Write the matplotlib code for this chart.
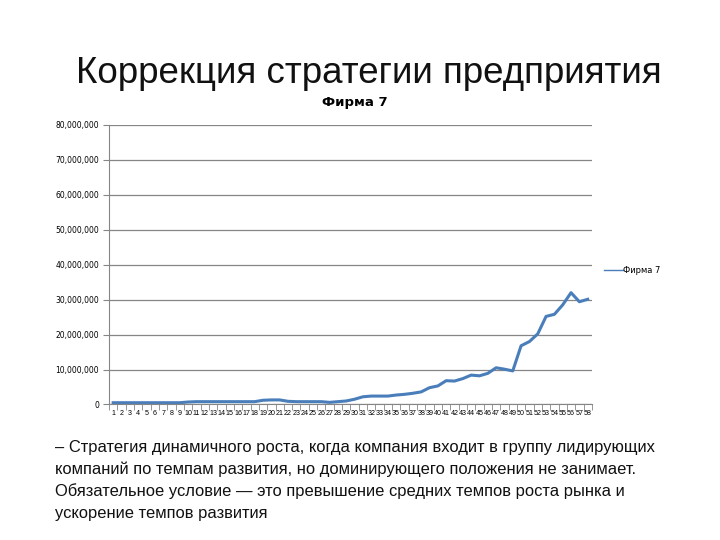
import matplotlib.pyplot as plt
from matplotlib.ticker import FuncFormatter
import numpy as np

# данные (оценка по картинке)
periods = list(range(1, 59))
firm7 = [0.5, 0.5, 0.5, 0.5, 0.5, 0.5, 0.5, 0.5, 0.5, 0.7,
         0.8, 0.8, 0.8, 0.8, 0.8, 0.8, 0.8, 0.8, 1.2, 1.3,
         1.3, 0.9, 0.8, 0.8, 0.8, 0.8, 0.6, 0.8, 1.0, 1.5,
         2.2, 2.4, 2.4, 2.4, 2.7, 2.9, 3.2, 3.6, 4.8, 5.3,
         6.8, 6.7, 7.4, 8.4, 8.2, 8.9, 10.5, 10.1, 9.6, 16.8,
         18.0, 20.2, 25.2, 25.8, 28.5, 32.0, 29.4, 30.1]
firm7 = [v * 1e6 for v in firm7]
series_name = "Фирма 7"
title_text = "Коррекция стратегии предприятия"
body_lines = [
    "– Стратегия динамичного роста, когда компания входит в группу лидирующих",
    "компаний по темпам развития, но доминирующего положения не занимает.",
    "Обязательное условие — это превышение средних темпов роста рынка и",
    "ускорение темпов развития",
]

plt.rcParams['font.family'] = ['Liberation Sans', 'DejaVu Sans']

fig = plt.figure(figsize=(7.2, 5.4), dpi=100)
fig.patch.set_facecolor('white')

fig.text(0.512, 0.863, title_text, ha='center', va='center', fontsize=26.5, color='#111111')
fig.text(0.493, 0.81, series_name, ha='center', va='center', fontsize=9.5,
         fontweight='bold', family=['DejaVu Sans'])

ax = fig.add_axes([0.1514, 0.251, 0.6706, 0.5176])
ax.plot(periods, firm7, color='#4a7ebb', linewidth=2.2, label=series_name)

ax.set_xlim(0.5, 58.5)
ax.set_ylim(0, 80e6)
ax.set_yticks(np.arange(0, 80e6 + 1, 10e6))
ax.yaxis.set_major_formatter(FuncFormatter(lambda v, p: f"{int(v):,}"))
ax.grid(axis='y', color='#868686', linewidth=0.9)
ax.set_axisbelow(True)

ax.set_xticks(periods)
ax.set_xticklabels([str(p) for p in periods])
ax.set_xticks(np.arange(0.5, 59, 1), minor=True)
ax.tick_params(axis='x', which='major', length=0, labelsize=5.1, pad=4)
ax.tick_params(axis='x', which='minor', length=4, color='#868686', direction='out')
ax.tick_params(axis='y', length=4, color='#868686', labelsize=5.5, pad=3)
for lab in ax.get_yticklabels():
    lab.set_family('DejaVu Sans')

for side in ['top', 'right']:
    ax.spines[side].set_visible(False)
ax.spines['left'].set_color('#868686')
ax.spines['bottom'].set_color('#868686')

leg = ax.legend(loc='center left', bbox_to_anchor=(1.01, 0.478), frameon=False,
                handlelength=2.2, handletextpad=0.1,
                prop={'family': 'DejaVu Sans', 'size': 6})
for ln in leg.get_lines():
    ln.set_linewidth(1.0)

y0 = 0.172
for i, line in enumerate(body_lines):
    fig.text(0.076, y0 - i * 0.041, line, ha='left', va='center', fontsize=11.9, color='#111111')

fig.savefig('out.png', dpi=100)
